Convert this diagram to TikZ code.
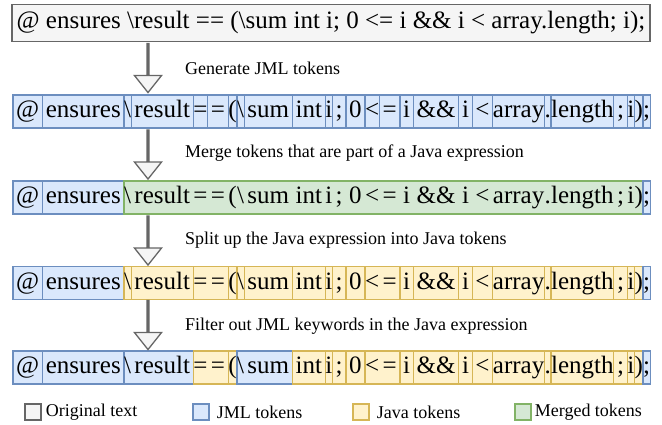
\documentclass[tikz,border=0pt]{standalone}
\usepackage{fontspec}
\setmainfont{Liberation Serif}
\usetikzlibrary{positioning,shapes.arrows,backgrounds}
\definecolor{origfill}{HTML}{F5F5F5}
\definecolor{origline}{HTML}{666666}
\definecolor{jmlfill}{HTML}{DAE8FC}
\definecolor{jmlline}{HTML}{6C8EBF}
\definecolor{javafill}{HTML}{FFF2CC}
\definecolor{javaline}{HTML}{D6B656}
\definecolor{mergefill}{HTML}{D5E8D4}
\definecolor{mergeline}{HTML}{82B366}
\newcommand{\tokfont}{\rmfamily\fontsize{25}{30}\selectfont}
\newcommand{\capfont}{\rmfamily\fontsize{18}{22}\selectfont}
\tikzstyle{origbox}=[fill=origfill, draw=origline, line width=1.3]
\tikzstyle{jmlbox}=[fill=jmlfill, draw=jmlline, line width=1.3]
\tikzstyle{javabox}=[fill=javafill, draw=javaline, line width=1.3]
\tikzstyle{mergebox}=[fill=mergefill, draw=mergeline, line width=1.3]
\tikzstyle{atom}=[font=\tokfont, inner ysep=0, text height=18, text depth=6, minimum height=33, outer sep=0]
\tikzstyle{bigarrow}=[origbox, single arrow, shape border rotate=270, minimum height=49, minimum width=27, single arrow head extend=9.5, single arrow tip angle=77, inner sep=0]
\tikzstyle{caption}=[font=\capfont, anchor=west, inner sep=0]
\tikzstyle{keybox}=[minimum size=16, inner sep=0]
\tikzstyle{keytext}=[font=\capfont, inner sep=1]
% one row of tokens, #1 name, #2 y; /1 = token followed by a space
\newcommand{\tokenrow}[2]{%
  \coordinate (#1-0) at (13,#2);
  \foreach \t/\w [count=\i, remember=\i as \j (initially 0)] in {@/1, ensures/1, \textbackslash/0, result/1, =/0, =/1, {(}/0, \textbackslash/0, sum/1, int/1, i/0, ;/1, 0/1, </0, =/1, i/1, \&\&/1, i/1, </1, array/0, ./0, length/0, ;/1, i/0, {)}/0, ;/0}
    \node[atom, inner xsep={0.15+3.1*\w}, right=0pt of #1-\j] (#1-\i) {\t};
}

\begin{document}
\begin{tikzpicture}[x=1pt, y=-1pt]
    \useasboundingbox (0,0) rectangle (662,425);

    % original text
    \node[origbox, font=\tokfont, minimum width=638, minimum height=37, inner sep=0, text height=18, text depth=6] (orig) at (331,23)
        {@ ensures \textbackslash result == (\textbackslash sum int i; 0 <= i \&\& i < array.length; i);};

    % token rows
    \tokenrow{gen}{111.5}
    \tokenrow{merge}{197.5}
    \tokenrow{split}{283}
    \tokenrow{filter}{367.5}

    \begin{scope}[on background layer]
        \foreach \i in {1,...,26}
            \draw[jmlbox] (gen-\i.north west) rectangle (gen-\i.south east);
        \foreach \a/\b/\s in {1/1/jmlbox, 2/2/jmlbox, 3/25/mergebox, 26/26/jmlbox}
            \draw[\s] (merge-\a.north west) rectangle (merge-\b.south east);
        \foreach \a/\b/\s in {1/1/jmlbox, 2/2/jmlbox, 3/3/javabox, 4/4/javabox, 5/6/javabox, 7/7/javabox, 8/8/javabox, 9/9/javabox, 10/10/javabox, 11/11/javabox, 12/12/javabox, 13/13/javabox, 14/15/javabox, 16/16/javabox, 17/17/javabox, 18/18/javabox, 19/19/javabox, 20/20/javabox, 21/21/javabox, 22/22/javabox, 23/23/javabox, 24/24/javabox, 25/25/javabox, 26/26/jmlbox}
            \draw[\s] (split-\a.north west) rectangle (split-\b.south east);
        \foreach \a/\b/\s in {1/1/jmlbox, 2/2/jmlbox, 3/4/jmlbox, 5/6/javabox, 7/7/javabox, 8/9/jmlbox, 10/10/javabox, 11/11/javabox, 12/12/javabox, 13/13/javabox, 14/15/javabox, 16/16/javabox, 17/17/javabox, 18/18/javabox, 19/19/javabox, 20/20/javabox, 21/21/javabox, 22/22/javabox, 23/23/javabox, 24/24/javabox, 25/25/javabox, 26/26/jmlbox}
            \draw[\s] (filter-\a.north west) rectangle (filter-\b.south east);
    \end{scope}

    % steps
    \node[bigarrow] (step1) at (148,67.5) {};
    \node[bigarrow] (step2) at (148,154) {};
    \node[bigarrow] (step3) at (148,240) {};
    \node[bigarrow] (step4) at (148,324.5) {};
    \node[caption] (cap1) at (185,68) {Generate JML tokens};
    \node[caption] (cap2) at (185,153) {Merge tokens that are part of a Java expression};
    \node[caption] (cap3) at (185,240) {Split up the Java expression into Java tokens};
    \node[caption] (cap4) at (185,326) {Filter out JML keywords in the Java expression};

    % legend
    \node[origbox, keybox] (key1) at (33,412) {};
    \node[keytext, right=3pt of key1] (lab1) {Original text};
    \node[jmlbox, keybox] (key2) at (201,412) {};
    \node[keytext, right=6pt of key2] (lab2) {JML tokens};
    \node[javabox, keybox] (key3) at (361,412) {};
    \node[keytext, right=6pt of key3] (lab3) {Java tokens};
    \node[mergebox, keybox] (key4) at (523,412) {};
    \node[keytext, right=2pt of key4] (lab4) {Merged tokens};
\end{tikzpicture}
\end{document}
